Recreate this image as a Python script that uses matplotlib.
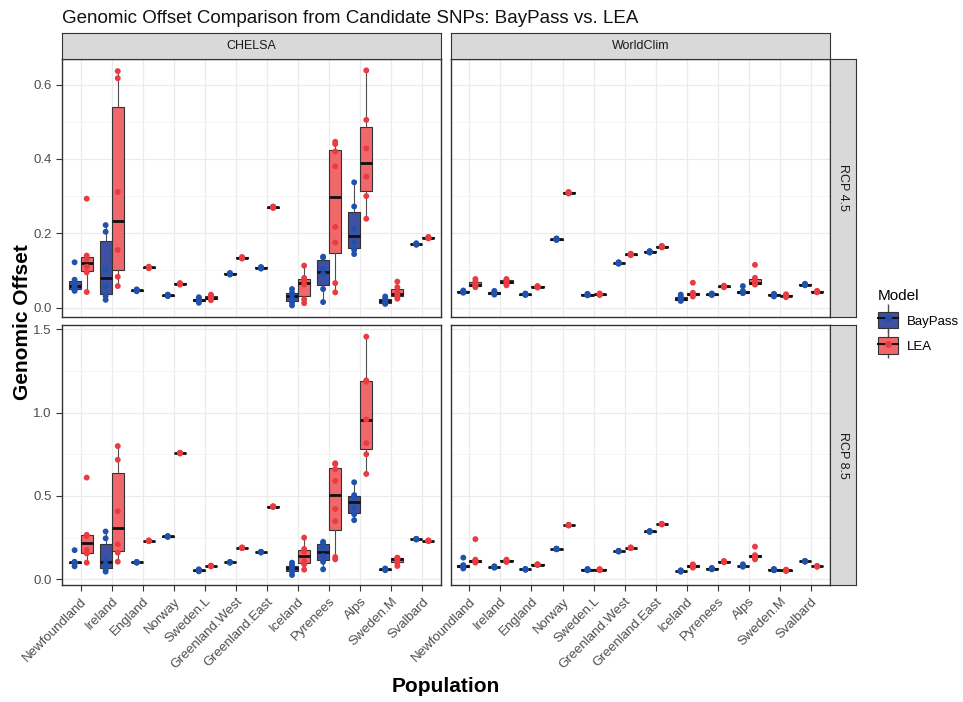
import matplotlib.pyplot as plt
from matplotlib.patches import Patch
from matplotlib.lines import Line2D
from matplotlib.legend_handler import HandlerTuple
from matplotlib.ticker import MultipleLocator

plt.rcParams['font.family'] = ['Liberation Sans', 'DejaVu Sans']

populations = ["Newfoundland", "Ireland", "England", "Norway", "Sweden.L",
               "Greenland.West", "Greenland.East", "Iceland", "Pyrenees",
               "Alps", "Sweden.M", "Svalbard"]
climates = ["CHELSA", "WorldClim"]
scenarios = ["RCP 4.5", "RCP 8.5"]
models = ["BayPass", "LEA"]

# genomic offset per population (one list of values per population)
chelsa_45_baypass = [
    [0.045, 0.048, 0.055, 0.062, 0.075, 0.122],
    [0.021, 0.031, 0.057, 0.101, 0.204, 0.222],
    [0.044, 0.046, 0.047, 0.048, 0.049],
    [0.031, 0.032, 0.033, 0.034, 0.035],
    [0.013, 0.017, 0.020, 0.022, 0.025, 0.028],
    [0.089, 0.090, 0.091, 0.092, 0.093],
    [0.105, 0.106, 0.107, 0.108, 0.109],
    [0.006, 0.014, 0.024, 0.036, 0.040, 0.050],
    [0.015, 0.050, 0.090, 0.104, 0.135, 0.137],
    [0.144, 0.155, 0.175, 0.211, 0.272, 0.337],
    [0.010, 0.012, 0.015, 0.020, 0.025, 0.030],
    [0.169, 0.170, 0.171, 0.172, 0.173],
]
chelsa_45_lea = [
    [0.042, 0.095, 0.110, 0.130, 0.140, 0.293],
    [0.058, 0.083, 0.155, 0.311, 0.617, 0.636],
    [0.106, 0.107, 0.108, 0.109, 0.110],
    [0.062, 0.063, 0.064, 0.065, 0.066],
    [0.020, 0.024, 0.026, 0.028, 0.031, 0.035],
    [0.132, 0.133, 0.134, 0.135, 0.136],
    [0.268, 0.269, 0.270, 0.271, 0.272],
    [0.012, 0.022, 0.062, 0.072, 0.080, 0.113],
    [0.041, 0.066, 0.175, 0.217, 0.380, 0.420, 0.440, 0.446],
    [0.239, 0.300, 0.352, 0.428, 0.505, 0.638],
    [0.024, 0.030, 0.035, 0.040, 0.055, 0.070],
    [0.186, 0.187, 0.188, 0.189, 0.190],
]
chelsa_85_baypass = [
    [0.078, 0.095, 0.100, 0.102, 0.105, 0.175],
    [0.046, 0.060, 0.090, 0.118, 0.246, 0.287],
    [0.100, 0.101, 0.102, 0.103, 0.104],
    [0.255, 0.256, 0.257, 0.258, 0.259],
    [0.048, 0.051, 0.053, 0.055, 0.057, 0.060],
    [0.100, 0.101, 0.102, 0.103, 0.104],
    [0.161, 0.162, 0.163, 0.164, 0.165],
    [0.026, 0.045, 0.060, 0.075, 0.085, 0.100],
    [0.060, 0.105, 0.140, 0.188, 0.219, 0.225],
    [0.355, 0.390, 0.430, 0.494, 0.505, 0.582],
    [0.055, 0.058, 0.060, 0.062, 0.065],
    [0.239, 0.240, 0.241, 0.242, 0.243],
]
chelsa_85_lea = [
    [0.100, 0.155, 0.175, 0.259, 0.267, 0.610],
    [0.106, 0.160, 0.210, 0.408, 0.717, 0.799],
    [0.229, 0.230, 0.231, 0.232, 0.233],
    [0.755, 0.756, 0.757, 0.758, 0.759],
    [0.078, 0.079, 0.080, 0.081, 0.082],
    [0.187, 0.188, 0.189, 0.190, 0.191],
    [0.434, 0.435, 0.436, 0.437, 0.438],
    [0.058, 0.090, 0.110, 0.166, 0.182, 0.250],
    [0.120, 0.134, 0.349, 0.422, 0.590, 0.660, 0.690, 0.696],
    [0.632, 0.750, 0.816, 0.958, 1.185, 1.193, 1.455],
    [0.080, 0.100, 0.120, 0.124, 0.128, 0.130],
    [0.229, 0.230, 0.231, 0.232, 0.233],
]
worldclim_45_baypass = [
    [0.040, 0.042, 0.043, 0.044, 0.046],
    [0.035, 0.038, 0.040, 0.042, 0.045],
    [0.034, 0.035, 0.036, 0.037, 0.038],
    [0.182, 0.183, 0.184, 0.185, 0.186],
    [0.033, 0.034, 0.035, 0.036, 0.037],
    [0.118, 0.119, 0.120, 0.121, 0.122],
    [0.148, 0.149, 0.150, 0.151, 0.152],
    [0.018, 0.020, 0.022, 0.025, 0.030, 0.035],
    [0.034, 0.035, 0.036, 0.037, 0.038],
    [0.039, 0.040, 0.041, 0.042, 0.045, 0.058],
    [0.030, 0.033, 0.035, 0.036, 0.037],
    [0.060, 0.061, 0.062, 0.063, 0.064],
]
worldclim_45_lea = [
    [0.055, 0.058, 0.060, 0.062, 0.070, 0.077],
    [0.060, 0.064, 0.068, 0.070, 0.074, 0.077],
    [0.054, 0.055, 0.056, 0.057, 0.058],
    [0.307, 0.308, 0.309, 0.310, 0.311],
    [0.034, 0.035, 0.036, 0.037, 0.038],
    [0.141, 0.142, 0.143, 0.144, 0.145],
    [0.162, 0.163, 0.164, 0.165, 0.166],
    [0.030, 0.033, 0.035, 0.037, 0.040, 0.067],
    [0.055, 0.056, 0.057, 0.058, 0.059],
    [0.062, 0.064, 0.066, 0.068, 0.080, 0.115],
    [0.028, 0.030, 0.032, 0.034, 0.036],
    [0.041, 0.042, 0.043, 0.044, 0.045],
]
worldclim_85_baypass = [
    [0.065, 0.075, 0.078, 0.082, 0.085, 0.130],
    [0.070, 0.072, 0.074, 0.076, 0.078],
    [0.058, 0.059, 0.060, 0.061, 0.062],
    [0.180, 0.181, 0.182, 0.183, 0.184],
    [0.054, 0.056, 0.058, 0.060, 0.062],
    [0.167, 0.168, 0.169, 0.170, 0.171],
    [0.285, 0.286, 0.287, 0.288, 0.289],
    [0.046, 0.048, 0.050, 0.052, 0.054],
    [0.060, 0.062, 0.064, 0.066, 0.068],
    [0.076, 0.078, 0.080, 0.082, 0.090],
    [0.054, 0.056, 0.058, 0.060, 0.062],
    [0.106, 0.107, 0.108, 0.109, 0.110],
]
worldclim_85_lea = [
    [0.100, 0.105, 0.108, 0.112, 0.118, 0.241],
    [0.104, 0.107, 0.110, 0.113, 0.118],
    [0.086, 0.087, 0.088, 0.089, 0.090],
    [0.323, 0.324, 0.325, 0.326, 0.327],
    [0.055, 0.057, 0.058, 0.059, 0.061],
    [0.187, 0.188, 0.189, 0.190, 0.191],
    [0.329, 0.330, 0.331, 0.332, 0.333],
    [0.070, 0.075, 0.080, 0.085, 0.090],
    [0.102, 0.104, 0.106, 0.108, 0.110],
    [0.120, 0.130, 0.134, 0.140, 0.145, 0.196],
    [0.050, 0.052, 0.054, 0.056, 0.058],
    [0.076, 0.077, 0.078, 0.079, 0.080],
]

panels = {
    ("CHELSA", "RCP 4.5"): (chelsa_45_baypass, chelsa_45_lea),
    ("CHELSA", "RCP 8.5"): (chelsa_85_baypass, chelsa_85_lea),
    ("WorldClim", "RCP 4.5"): (worldclim_45_baypass, worldclim_45_lea),
    ("WorldClim", "RCP 8.5"): (worldclim_85_baypass, worldclim_85_lea),
}

box_fill = {"BayPass": "#3F50A2", "LEA": "#F0686B"}
point_col = {"BayPass": "#1F52AC", "LEA": "#E93B40"}
shift = {"BayPass": -0.195, "LEA": 0.195}

W, H = 963, 702
fig = plt.figure(figsize=(W / 100, H / 100), dpi=100)

col_x = [62, 450.7]
col_w = 379
row_y = [(58.5, 317.3), (325, 585)]
ylims = [(-0.026, 0.670), (-0.034, 1.525)]
ystep = [0.2, 0.5]


def frac_box(x0, y0, x1, y1):
    return [x0 / W, 1 - y1 / H, (x1 - x0) / W, (y1 - y0) / H]


xs = list(range(len(populations)))

for r, scen in enumerate(scenarios):
    for c, clim in enumerate(climates):
        y0, y1 = row_y[r]
        ax = fig.add_axes(frac_box(col_x[c], y0, col_x[c] + col_w, y1))
        ax.set_xlim(-0.6, len(populations) - 0.4)
        ax.set_ylim(*ylims[r])
        ax.yaxis.set_major_locator(MultipleLocator(ystep[r]))
        ax.yaxis.set_minor_locator(MultipleLocator(ystep[r] / 2))
        ax.set_xticks(xs)
        ax.grid(True, which='major', color='#EBEBEB', lw=0.9, zorder=0)
        ax.grid(True, which='minor', axis='y', color='#F4F4F4', lw=0.6, zorder=0)
        ax.set_axisbelow(True)
        for s in ax.spines.values():
            s.set_color('#333333')
            s.set_linewidth(1.0)

        for m, vals in zip(models, panels[(clim, scen)]):
            pos = [x + shift[m] for x in xs]
            ax.boxplot(vals, positions=pos, widths=0.39, patch_artist=True,
                       showfliers=False, showcaps=False, whis=1.5,
                       boxprops=dict(facecolor=box_fill[m], edgecolor='#333333', lw=0.8),
                       whiskerprops=dict(color='#4D4D4D', lw=0.8),
                       medianprops=dict(color='#111111', lw=2.0),
                       manage_ticks=False, zorder=2)
            px = [p for p, v in zip(pos, vals) for _ in v]
            py = [y for v in vals for y in v]
            ax.scatter(px, py, s=18, color=point_col[m], edgecolors='none', zorder=3)

        ax.tick_params(axis='both', which='major', color='#333333', length=4,
                       width=0.8, labelcolor='#4D4D4D', labelsize=9.5)
        ax.tick_params(which='minor', length=0)
        if r == 0:
            ax.tick_params(axis='x', length=0, labelbottom=False)
        else:
            ax.set_xticklabels(populations, rotation=45, ha='right',
                               rotation_mode='anchor')
        if c == 1:
            ax.tick_params(axis='y', length=0, labelleft=False)

        # facet strips
        if r == 0:
            sx = fig.add_axes(frac_box(col_x[c], 33, col_x[c] + col_w, y0))
            sx.set_facecolor('#D9D9D9')
            sx.set_xticks([])
            sx.set_yticks([])
            for s in sx.spines.values():
                s.set_color('#333333')
            sx.text(0.5, 0.5, clim, ha='center', va='center', fontsize=9,
                    color='#1A1A1A', transform=sx.transAxes)
        if c == 1:
            sy = fig.add_axes(frac_box(col_x[c] + col_w, y0, 855.7, y1))
            sy.set_facecolor('#D9D9D9')
            sy.set_xticks([])
            sy.set_yticks([])
            for s in sy.spines.values():
                s.set_color('#333333')
            sy.text(0.5, 0.5, scen, ha='center', va='center', fontsize=9,
                    rotation=-90, color='#1A1A1A', transform=sy.transAxes)

fig.text(62 / W, 1 - 23 / H, "Genomic Offset Comparison from Candidate SNPs: BayPass vs. LEA",
         fontsize=13.5, ha='left', va='baseline', color='#111111')
fig.text(22 / W, 1 - 321.75 / H, "Genomic Offset", rotation=90, ha='center',
         va='center', fontsize=15, fontweight='bold')
fig.text(445.5 / W, 1 - 687 / H, "Population", ha='center', va='center',
         fontsize=15, fontweight='bold')

handles = []
for m in models:
    handles.append((Line2D([], [], color='#4D4D4D', marker='|', markersize=20, lw=0),
                    Patch(facecolor=box_fill[m], edgecolor='#333333', lw=0.8),
                    Line2D([], [], color='#111111', lw=1.5),
                    Line2D([], [], color=point_col[m], marker='o', markersize=4, lw=0)))
fig.legend(handles, models, title="Model", loc='upper left',
           bbox_to_anchor=(866 / W, 1 - 277 / H), frameon=False,
           handler_map={tuple: HandlerTuple(ndivide=1)},
           fontsize=9.5, title_fontsize=11, handlelength=1.5, handleheight=1.5,
           labelspacing=0.7, handletextpad=0.7, alignment='left')

fig.savefig("out.png", dpi=100)
